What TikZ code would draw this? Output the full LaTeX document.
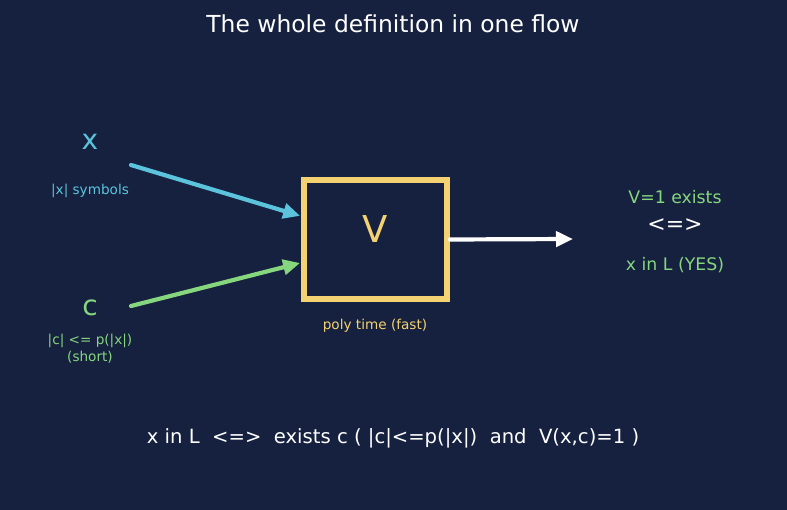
\documentclass[tikz,border=0pt]{standalone}
\usepackage{fontspec}
\setmainfont{DejaVu Sans}
\usetikzlibrary{arrows.meta,positioning}
\definecolor{bgnavy}{HTML}{162140}
\definecolor{cyanx}{HTML}{5BC4DC}
\definecolor{greenc}{HTML}{86D67E}
\definecolor{yellowv}{HTML}{F5D271}
\tikzset{
  every picture/.style={
    line join=round,
    line cap=round,
    >={Triangle[length=17pt,width=15pt]},
  },
  flow/.style={->, line width=4.2pt},
  label/.style={font=\fontsize{13.6}{17}\selectfont},
  result/.style={font=\fontsize{17.3}{20}\selectfont, text=greenc},
}

\begin{document}
\begin{tikzpicture}[x=1pt,y=-1pt]
    % Background
    \fill[bgnavy] (0,0) rectangle (787,510);
    \useasboundingbox (0,0) rectangle (787,510);
    % Title
    \node[text=white, font=\fontsize{23.4}{27}\selectfont] (title) at (393,24) {The whole definition in one flow};
    % Inputs
    \node[text=cyanx, font=\fontsize{28}{32}\selectfont] (x) at (90,142) {x};
    \node[label, text=cyanx] (xlen) at (90,191) {|x| symbols};
    \node[text=greenc, font=\fontsize{28}{32}\selectfont] (c) at (90,308) {c};
    \node[label, text=greenc, align=center] (clen) at (90,348.5) {|c| <= p(|x|)\\(short)};
    % Verifier box
    \node[draw=yellowv, line width=5.5pt, line join=miter, minimum width=143pt, minimum height=119pt] (verifier) at (375.5,239.5) {};
    \node[text=yellowv, font=\fontsize{37}{42}\selectfont] (vname) at (375,229) {V};
    \node[label, text=yellowv] (poly) at (375,326) {poly time (fast)};
    % Arrows
    \coordinate (xout) at (131,165);
    \coordinate (cout) at (131,306);
    \coordinate (xin) at (304,217);
    \coordinate (cin) at (304,262);
    \coordinate (yes) at (573,239);
    \draw[flow, cyanx, shorten >=4pt] (xout) -- (xin);
    \draw[flow, greenc, shorten >=4pt] (cout) -- (cin);
    \draw[flow, white] (verifier.east) -- (yes);
    % Result
    \node[result] (exists) at (675,197) {V=1 exists};
    \node[text=white, font=\fontsize{22}{26}\selectfont] (iff) at (675,225) {<=>};
    \node[result] (inL) at (675,265) {x in L (YES)};
    % Full definition
    \node[text=white, font=\fontsize{19.6}{23}\selectfont] (def) at (393,438) {x in L~~<=>~~exists c ( |c|<=p(|x|)~~and~~V(x,c)=1 )};
\end{tikzpicture}
\end{document}
